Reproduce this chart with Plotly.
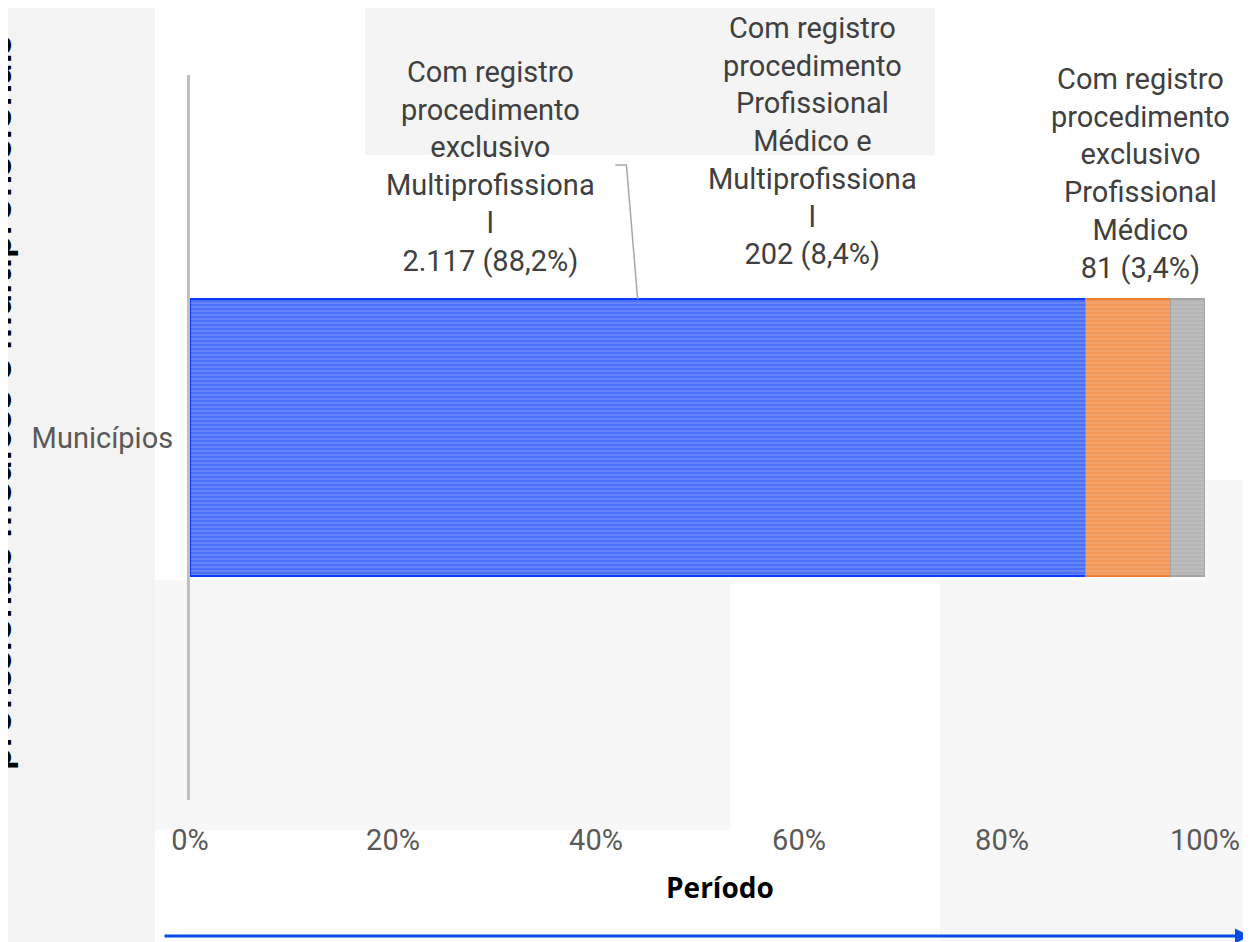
import plotly.graph_objects as go

# ---------------- data ----------------
category = ["Municípios"]
series_names = [
    "Com registro procedimento exclusivo Multiprofissional",
    "Com registro procedimento Profissional Médico e Multiprofissional",
    "Com registro procedimento exclusivo Profissional Médico",
]
series_counts = [2117, 202, 81]
series_colors = ["#0a3cff", "#ED7D31", "#A5A5A5"]
series_gapcolors = ["#8ea2f7", "#f4b384", "#c6c6c6"]
label_texts = [
    "Com registro<br>procedimento<br>exclusivo<br>Multiprofissiona<br>l<br>2.117 (88,2%)",
    "Com registro<br>procedimento<br>Profissional<br>Médico e<br>Multiprofissiona<br>l<br>202 (8,4%)",
    "Com registro<br>procedimento<br>exclusivo<br>Profissional<br>Médico<br>81 (3,4%)",
]
x_ticks = [0, 20, 40, 60, 80, 100]
x_ticklabels = ["0%", "20%", "40%", "60%", "80%", "100%"]
x_title = "Período"
y_title = "profissionais médicos e multiprofissionais"

# ---------------- layout geometry (page pixels; page has an 8px body margin) ----------------
W, H = 1251, 942
OFF = 8
PL, PR, PT, PB = 190, 1205, 75, 800   # plot area in page pixels
PW, PH = PR - PL, PB - PT


def px(xp):
    return (xp - PL) / PW


def py(yp):
    return (PB - yp) / PH


BAR_WIDTH = 0.382

fig = go.Figure()
for name, cnt, col, gap in zip(series_names, series_counts, series_colors, series_gapcolors):
    fig.add_trace(go.Bar(
        y=category, x=[cnt], name=name, orientation="h", width=BAR_WIDTH,
        marker=dict(
            color=col,
            line=dict(color=col, width=1.5),
            pattern=dict(shape="-", fgcolor=col, bgcolor=gap, size=4, solidity=0.8),
        ),
        hoverinfo="skip",
    ))

# background panels (page pixels)
bg_rects = [
    (0, 0, 155, 942, "#f3f3f3"),
    (365, 0, 935, 155, "#f4f4f4"),
    (155, 580, 730, 830, "#f7f7f7"),
    (940, 580, 1251, 942, "#f7f7f7"),
    (1205, 480, 1251, 580, "#f7f7f7"),
]
shapes = []
for x0, y0, x1, y1, c in bg_rects:
    shapes.append(dict(type="rect", xref="paper", yref="paper", x0=px(x0), x1=px(x1),
                       y0=py(y1), y1=py(y0), fillcolor=c, line=dict(width=0), layer="below"))

# leader line for first label (data coords)
bar_top = BAR_WIDTH / 2
shapes.append(dict(type="path", xref="x", yref="y",
                   path=f"M 41.9 0.376 L 43.0 0.376 L 44.1 {bar_top:.3f}",
                   line=dict(color="#a6a6a6", width=1.5)))

label_font = dict(family="Roboto, Arial, sans-serif", size=29, color="#404040")
label_pos = [(29.6, 280), (61.3, 273), (93.6, 287)]  # x in %, bottom in page px
annotations = []
for txt, (lx, lb) in zip(label_texts, label_pos):
    annotations.append(dict(xref="x", yref="paper", x=lx, y=py(lb), text=txt, showarrow=False,
                            xanchor="center", yanchor="bottom", align="center", font=label_font))

# x-axis title
annotations.append(dict(xref="paper", yref="paper", x=px(720), y=py(887), text=f"<b>{x_title}</b>",
                        showarrow=False, xanchor="center", yanchor="middle",
                        font=dict(family="Open Sans, Lato, sans-serif", size=28, color="#000000")))
# blue arrow
annotations.append(dict(xref="paper", yref="paper", x=px(1250), y=py(936), text="",
                        showarrow=True, axref="pixel", ayref="pixel", ax=-1087, ay=0,
                        arrowhead=2, arrowsize=1, arrowwidth=3, arrowcolor="#0a4be6"))
# y-axis title (mostly cut off at left edge, as in the reference)
annotations.append(dict(xref="paper", yref="paper", x=px(-4), y=py(772), text=f"<b>{y_title}</b>",
                        textangle=-90, showarrow=False, xanchor="center", yanchor="bottom",
                        font=dict(family="Lato, Open Sans, sans-serif", size=40, color="#000000")))

fig.update_layout(
    width=W, height=H,
    margin=dict(l=PL - OFF, r=W - (PR - OFF), t=PT - OFF, b=H - (PB - OFF)),
    barmode="stack", barnorm="percent",
    showlegend=False,
    paper_bgcolor="#ffffff", plot_bgcolor="rgba(0,0,0,0)",
    shapes=shapes, annotations=annotations,
    xaxis=dict(range=[0, 100], tickvals=x_ticks, ticktext=x_ticklabels, showgrid=False, zeroline=False,
               showline=False, ticks="", ticklabelstandoff=20,
               tickfont=dict(family="Roboto, Arial, sans-serif", size=29, color="#595959")),
    yaxis=dict(range=[-0.5, 0.5], showgrid=False, zeroline=False, showline=True,
               linecolor="#bfbfbf", linewidth=3, ticks="", ticklabelstandoff=8,
               tickfont=dict(family="Roboto, Arial, sans-serif", size=29, color="#595959")),
)

fig.write_html("out.html")
